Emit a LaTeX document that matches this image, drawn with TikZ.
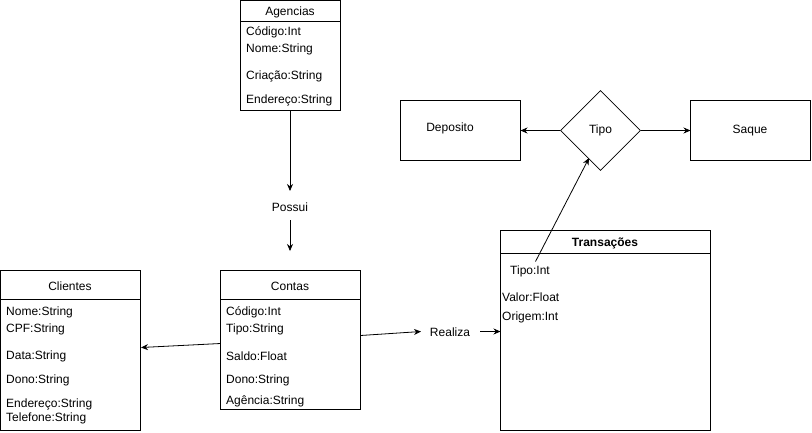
\documentclass[tikz,border=0pt]{standalone}
\usepackage{fontspec}
\setmainfont{Liberation Sans}
\usetikzlibrary{shapes.geometric,arrows.meta}
\begin{document}
\begin{tikzpicture}[x=1pt,y=-1pt,
  font=\fontsize{12}{14}\selectfont,
  box/.style={draw,line width=0.8pt,fill=white},
  attr/.style={anchor=west,inner sep=0pt,yshift=-1pt},
  lbl/.style={inner sep=1pt,yshift=-1pt},
  arr/.style={line width=0.8pt,-{Stealth[length=7pt,width=6pt]}}]
\useasboundingbox (0,0) rectangle (812,432);
% Agencias
\draw[box] (240.5,0.5) rectangle (340.5,110.5);
\draw[line width=0.8pt] (240.5,21.5) -- (340.5,21.5);
\node[lbl] (ag) at (290,11) {Agencias};
\node[attr] (ag1) at (246,31) {Código:Int};
\node[attr] (ag2) at (246,48) {Nome:String};
\node[attr] (ag3) at (246,75) {Criação:String};
\node[attr] (ag4) at (246,99) {Endereço:String};
\coordinate (agb) at (290,110.5);
% Possui
\node[lbl] (possui) at (290,206) {Possui};
\coordinate (p1) at (290,191);
\coordinate (p2) at (290,220);
\coordinate (p3) at (290,251);
% Contas
\draw[box] (220.5,270.5) rectangle (360.5,409.5);
\draw[line width=0.8pt] (220.5,299.5) -- (360.5,299.5);
\node[lbl] (contas) at (290,285) {Contas};
\node[attr] (c1) at (226,311) {Código:Int};
\node[attr] (c2) at (226,328) {Tipo:String};
\node[attr] (c3) at (226,355) {Saldo:Float};
\node[attr] (c4) at (226,379) {Dono:String};
\node[attr] (c5) at (226,400) {Agência:String};
\coordinate (cl) at (220.5,343.5);
\coordinate (cr) at (360.5,335.5);
% Clientes
\draw[box] (0.5,270.5) rectangle (140.5,430.5);
\draw[line width=0.8pt] (0.5,299.5) -- (140.5,299.5);
\node[lbl] (clientes) at (70,285) {Clientes};
\node[attr] (k1) at (6,311) {Nome:String};
\node[attr] (k2) at (6,328) {CPF:String};
\node[attr] (k3) at (6,355) {Data:String};
\node[attr] (k4) at (6,379) {Dono:String};
\node[attr] (k5) at (6,403) {Endereço:String};
\node[attr] (k6) at (6,417) {Telefone:String};
\coordinate (kr) at (141,347.5);
% Realiza
\node[lbl] (realiza) at (450,331) {Realiza};
\coordinate (r1) at (421,331.5);
\coordinate (r2) at (480,331.5);
% Transacoes
\draw[box] (500.5,230.5) rectangle (710.5,430.5);
\draw[line width=0.8pt] (500.5,253.5) -- (710.5,253.5);
\node[lbl] (trans) at (605,242) {\bfseries Transações};
\node[attr] (t1) at (510,270) {Tipo:Int};
\node[attr] (t2) at (502,296) {Valor:Float};
\node[attr] (t3) at (502,316) {Origem:Int};
\coordinate (tl) at (500.5,331.5);
\coordinate (ts) at (535.5,261.5);
% Tipo diamond
\node[diamond,draw,line width=0.8pt,minimum width=80pt,minimum height=80pt,inner sep=0pt] (tipo) at (600.5,130.5) {Tipo};
\coordinate (te) at (589,158);
% Deposito, Saque
\draw[box] (400.5,100.5) rectangle (520.5,160.5);
\node[lbl] (dep) at (450,127) {Deposito};
\coordinate (dr) at (520.5,130.5);
\draw[box] (690.5,100.5) rectangle (810.5,160.5);
\node[lbl] (saque) at (750,130) {Saque};
\coordinate (sl) at (690.5,130.5);
% connectors
\draw[arr] (agb) -- (p1);
\draw[arr] (p2) -- (p3);
\draw[arr] (cl) -- (kr);
\draw[arr] (cr) -- (r1);
\draw[arr] (r2) -- (tl);
\draw[arr] (ts) -- (te);
\draw[arr] (tipo.west) -- (dr);
\draw[arr] (tipo.east) -- (sl);
\end{tikzpicture}
\end{document}
